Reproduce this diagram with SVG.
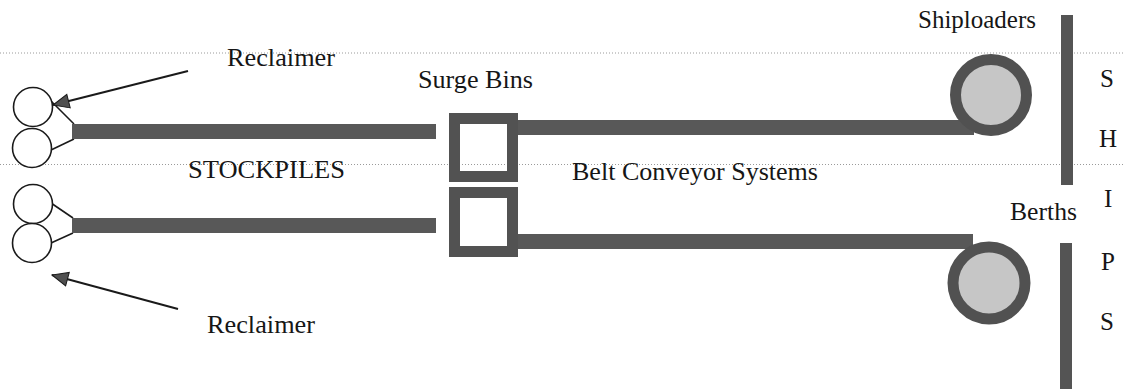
<svg xmlns="http://www.w3.org/2000/svg" width="1125" height="391" viewBox="0 0 1125 391">
  <style>
    .guide { stroke: #9a9a9a; stroke-width: 1; stroke-dasharray: 1 2; fill: none; }
    .belt { fill: #585858; }
    .bin { fill: none; stroke: #525252; stroke-width: 11; }
    .pile { fill: #ffffff; stroke: #1a1a1a; stroke-width: 1.6; }
    .feed { stroke: #1a1a1a; stroke-width: 1.6; fill: none; }
    .ring { fill: #c6c6c6; stroke: #515151; stroke-width: 11; }
    .quay { fill: #545454; }
    .pointer { stroke: #1a1a1a; stroke-width: 2; fill: none; }
    .lbl { font-family: "Liberation Serif", "Times New Roman", serif; font-size: 25px; fill: #161616; }
  </style>
  <defs>
    <marker id="head" viewBox="0 0 18 16" refX="17" refY="8" markerWidth="18" markerHeight="16" markerUnits="userSpaceOnUse" orient="auto">
      <path d="M1,1 L17,8 L1,15 Z" fill="#4f4f4f" stroke="#1a1a1a" stroke-width="1"/>
    </marker>
  </defs>

  <rect width="1125" height="391" fill="#ffffff"/>

  <!-- faint dotted guide rules -->
  <g id="guides">
    <line class="guide" x1="0" y1="53" x2="1125" y2="53"/>
    <line class="guide" x1="0" y1="164.5" x2="1125" y2="164.5"/>
  </g>

  <!-- belts, feeders and pointers -->
  <g id="connectors">
    <line class="feed" x1="51" y1="101" x2="74" y2="124"/>
    <line class="feed" x1="51" y1="150" x2="74" y2="139"/>
    <line class="feed" x1="51" y1="203" x2="73" y2="218"/>
    <line class="feed" x1="51" y1="243" x2="73" y2="233"/>
    <rect class="belt" x="72" y="124" width="364" height="15"/>
    <rect class="belt" x="72" y="218" width="364" height="15"/>
    <rect class="belt" x="518" y="120" width="456" height="15"/>
    <rect class="belt" x="518" y="234" width="455" height="15"/>
    <line class="pointer" x1="188" y1="71" x2="53" y2="105" marker-end="url(#head)"/>
    <line class="pointer" x1="178" y1="309" x2="52" y2="275" marker-end="url(#head)"/>
  </g>

  <!-- stockpiles -->
  <g id="stockpile-north">
    <circle class="pile" cx="33" cy="107" r="19.5"/>
    <circle class="pile" cx="32" cy="148" r="19.5"/>
  </g>
  <g id="stockpile-south">
    <circle class="pile" cx="33" cy="204" r="19.5"/>
    <circle class="pile" cx="32" cy="243" r="19.5"/>
  </g>

  <!-- surge bins -->
  <g id="surge-bin-north">
    <rect class="bin" x="454.5" y="118.5" width="58" height="58"/>
  </g>
  <g id="surge-bin-south">
    <rect class="bin" x="454.5" y="192.5" width="58" height="59"/>
  </g>

  <!-- shiploaders -->
  <g id="shiploader-north">
    <circle class="ring" cx="991" cy="95" r="35.5"/>
  </g>
  <g id="shiploader-south">
    <circle class="ring" cx="989" cy="283" r="36"/>
  </g>

  <!-- berth face -->
  <g id="berth">
    <rect class="quay" x="1061" y="15" width="12" height="170"/>
    <rect class="quay" x="1060" y="243" width="12" height="146"/>
  </g>

  <!-- labels -->
  <g id="labels">
    <text class="lbl" x="227" y="66" textLength="108" lengthAdjust="spacingAndGlyphs">Reclaimer</text>
    <text class="lbl" x="207" y="333" textLength="108" lengthAdjust="spacingAndGlyphs">Reclaimer</text>
    <text class="lbl" x="418" y="88" textLength="115" lengthAdjust="spacingAndGlyphs">Surge Bins</text>
    <text class="lbl" x="188" y="178" textLength="157" lengthAdjust="spacingAndGlyphs">STOCKPILES</text>
    <text class="lbl" x="572" y="180" textLength="246" lengthAdjust="spacingAndGlyphs">Belt Conveyor Systems</text>
    <text class="lbl" x="918" y="28" textLength="118" lengthAdjust="spacingAndGlyphs">Shiploaders</text>
    <text class="lbl" x="1010" y="220" textLength="67" lengthAdjust="spacingAndGlyphs">Berths</text>
    <text class="lbl" x="1100" y="87">S</text>
    <text class="lbl" x="1099" y="147">H</text>
    <text class="lbl" x="1104" y="207">I</text>
    <text class="lbl" x="1101" y="270">P</text>
    <text class="lbl" x="1100" y="330">S</text>
  </g>
</svg>
